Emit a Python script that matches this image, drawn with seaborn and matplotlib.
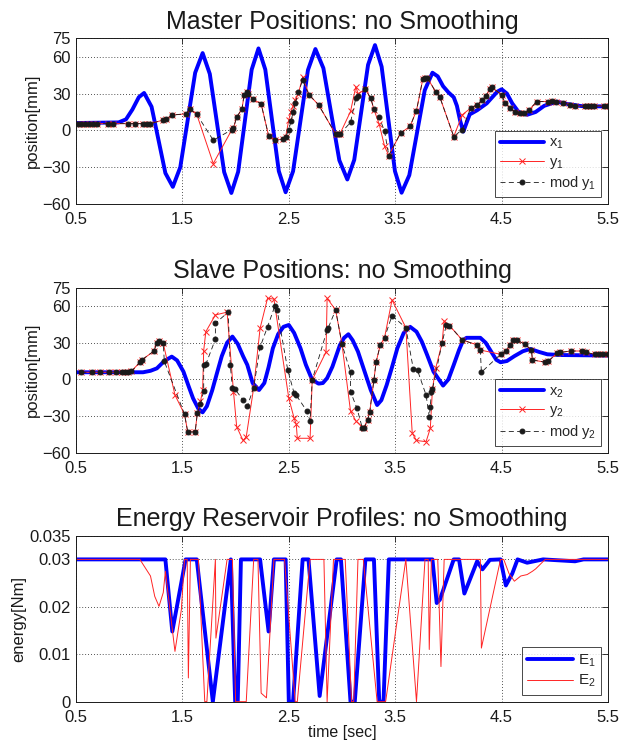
import matplotlib
matplotlib.use('Agg')
import matplotlib.pyplot as plt
import seaborn as sns
import pandas as pd

sns.set_theme(style='white')
plt.rcParams['font.family'] = ['Liberation Sans', 'DejaVu Sans']
plt.rcParams['mathtext.fontset'] = 'custom'
plt.rcParams['mathtext.rm'] = 'Liberation Sans'
plt.rcParams['mathtext.it'] = 'Liberation Sans'

# ---- master positions: x1 (blue), y1 (red x), mod y1 (black dots)
t_x1 = [0.5, 0.9, 0.97, 1.03, 1.09, 1.14, 1.21, 1.275, 1.34, 1.41, 1.48, 1.55, 1.62, 1.69,
        1.7575, 1.825, 1.8925, 1.96, 2.024, 2.0875, 2.151, 2.215, 2.279, 2.3425, 2.406, 2.47,
        2.54, 2.61, 2.68, 2.75, 2.825, 2.9, 2.975, 3.05, 3.115, 3.18, 3.245, 3.31, 3.3725,
        3.435, 3.4975, 3.56, 3.6325, 3.705, 3.7775, 3.85, 3.9, 3.95, 4.0, 4.05, 4.08, 4.11,
        4.14, 4.2, 4.27, 4.36, 4.46, 4.5, 4.55, 4.6, 4.66, 4.74, 4.82, 4.9, 5.02, 5.12, 5.25, 5.5]
x1 = [6, 6.5, 9, 17, 27, 30.5, 19.3, -7.7, -34.8, -46, -30, 8.5, 47, 63,
      46, 6, -34, -51, -33.7, 7.9, 49.5, 66.8, 49.6, 8.2, -33.2, -50.4,
      -33.3, 8, 49.2, 66.3, 50.7, 13, -24.4, -40, -24, 14.7, 53.5, 69.5, 51.9,
      9.3, -33.2, -50.8, -36.5, -1.9, 32.7, 47, 44, 36, 31, 27, 20, 8,
      -1, 13, 16.4, 22, 31.6, 33.5, 30, 22, 15, 12.7, 15, 20, 23.4, 21.5, 19.8, 19.5]

t_y1 = [0.52, 0.55, 0.585, 0.62, 0.663, 0.70, 0.80, 0.85, 0.99, 1.05, 1.13, 1.17, 1.20,
        1.32, 1.35, 1.40, 1.535, 1.57, 1.635, 1.79, 1.965, 1.98, 2.01, 2.06, 2.08, 2.11,
        2.12, 2.16, 2.24, 2.31, 2.37, 2.45, 2.47, 2.50, 2.52, 2.54, 2.56, 2.59, 2.63, 2.69,
        2.78, 2.94, 2.96, 2.98, 3.08, 3.13, 3.15, 3.22, 3.27, 3.30, 3.35, 3.40, 3.44, 3.55,
        3.64, 3.70, 3.76, 3.78, 3.80, 3.88, 3.92, 4.05, 4.13, 4.21, 4.27, 4.32, 4.35, 4.39,
        4.41, 4.50, 4.53, 4.58, 4.63, 4.67, 4.71, 4.76, 4.83, 4.94, 4.97, 5.01, 5.08, 5.14,
        5.19, 5.28, 5.31, 5.34, 5.37, 5.46, 5.5]
y1 = [5.5, 5.5, 5.5, 5.5, 5.5, 5.5, 5.5, 5.5, 5.5, 5.5, 5.5, 5.5, 5.5,
      8.5, 9, 12.5, 13.5, 17.5, 13, -27, 0.6, 2, 10.8, 17.5, 29, 31,
      30, 25.5, 21.6, -4.3, -8, -7, -5.5, 8.6, 15, 20, 25, 30, 43.5, 29,
      20.8, -3, -3, -3, 15.4, 35.7, 30, 33.5, 26, 17, 5, -13, -20.5, -2.2,
      3.3, 16.2, 42, 43, 43, 31.6, 27, -5, 12.7, 18.2, 20.8, 25, 28, 33.5,
      35, 29, 22.7, 18.2, 14.6, 14, 14, 16.8, 23.5, 23.5, 24, 23.5, 22.7, 20.8,
      19.6, 20, 20, 20, 20, 20, 20]
mod_y1 = [5.5, 5.5, 5.5, 5.5, 5.5, 5.5, 5.5, 5.5, 5.5, 5.5, 5.5, 5.5, 5.5,
          8.5, 9, 12.5, 13.5, 17.5, 13, -8, 0.6, 2, 10.8, 17.5, 29, 31,
          30, 25.5, 21.6, -4.3, -8, -7, -5.5, 0.6, 7.3, 14.6, 22, 31, 41, 29,
          20.8, -3, -3, -3, 6.5, 26.3, 28, 33.5, 26.3, 17.3, 10.8, -0.8, -20.5, -2.2,
          3.3, 16.2, 42, 43, 43, 31.6, 27, -5, 0.6, 18.2, 20.8, 25, 28, 33.5,
          35, 29, 22.7, 18.2, 14.6, 14, 14, 16.8, 23.5, 23.5, 24, 23.5, 22.7, 20.8,
          19.6, 20, 20, 20, 20, 20, 20]

# ---- slave positions: x2 (blue), y2 (red x), mod y2 (black dots)
t_x2 = [0.5, 1.13, 1.2, 1.26, 1.33, 1.40, 1.45, 1.51, 1.56, 1.60, 1.65, 1.69, 1.73, 1.78,
        1.82, 1.87, 1.92, 1.97, 2.02, 2.07, 2.11, 2.16, 2.22, 2.27, 2.31, 2.35, 2.40, 2.45,
        2.50, 2.55, 2.61, 2.66, 2.72, 2.78, 2.82, 2.86, 2.91, 2.98, 3.02, 3.06, 3.10, 3.15,
        3.21, 3.27, 3.33, 3.37, 3.42, 3.47, 3.52, 3.58, 3.64, 3.70, 3.75, 3.80, 3.86, 3.95,
        4.00, 4.05, 4.10, 4.14, 4.17, 4.30, 4.35, 4.40, 4.45, 4.49, 4.55, 4.62, 4.70, 4.77,
        4.85, 4.93, 5.06, 5.5]
x2 = [5.8, 5.8, 7, 9, 15, 18.6, 15.5, 6.3, -6, -15.5, -24, -27, -22, -9,
      3.6, 19, 30, 35, 29, 19, 11.8, -3, -8.7, -3, 10, 25.4, 37, 43,
      44.5, 38, 25.4, 12, -0.5, -3.5, -3, 1, 10.4, 28, 34, 36.9, 32, 22.7,
      7, -8.7, -21, -17, -4.6, 10, 25.4, 38, 43, 39, 30.9, 20, 6.3, -5.1,
      0, 11.8, 24, 32.2, 34, 34, 30, 23, 16, 14, 15, 19, 23, 24.9,
      22.5, 20.5, 19.9, 19.5]

t_y2 = [0.55, 0.65, 0.73, 0.81, 0.88, 0.93, 0.96, 0.99, 1.02, 1.10, 1.12, 1.23, 1.26, 1.28,
        1.32, 1.43, 1.52, 1.55, 1.62, 1.64, 1.67, 1.69, 1.70, 1.72, 1.81, 1.92, 1.98, 2.01,
        2.07, 2.10, 2.17, 2.23, 2.30, 2.36, 2.50, 2.55, 2.57, 2.58, 2.70, 2.72, 2.85, 2.86,
        2.94, 3.00, 3.08, 3.13, 3.19, 3.21, 3.24, 3.26, 3.30, 3.32, 3.36, 3.40, 3.47, 3.60,
        3.66, 3.70, 3.79, 3.83, 3.85, 3.88, 3.94, 3.96, 4.01, 4.13, 4.27, 4.30, 4.49, 4.54,
        4.58, 4.61, 4.64, 4.72, 4.78, 4.79, 4.91, 4.94, 5.02, 5.05, 5.15, 5.26, 5.29, 5.38,
        5.42, 5.45, 5.5]
y2 = [5.8, 5.8, 5.8, 5.8, 5.8, 5.8, 5.8, 5.8, 6.5, 14, 16, 23, 29.5, 31.4,
      29.5, -12.8, -28.6, -43, -43, -27.8, -18, -9, 23.5, 39, 52.7, 55, -10, -38.7,
      -50, -47, -6.8, 41.8, 66.3, 65.7, -15.5, -31.8, -36.7, -48.2, -48.2, -0.5, 22.5, 66.3,
      56.8, 28.7, -26, -34, -38.7, -39.5, -33, -27, -0.5, 14, 28.2, 34.2, 65, 42.3,
      -44, -50, -51, -40, -8, 9, 29.5, 47.8, 44, 32.2, 28.2, 24, 20.5, 23.2,
      28.2, 32.2, 32.2, 28.7, 24, 15.9, 14, 15, 21.3, 22, 23.2, 23.2, 22, 20.5,
      20.5, 20.5, 20.5]

t_mod2 = [0.55, 0.65, 0.73, 0.81, 0.88, 0.93, 0.96, 0.99, 1.02, 1.10, 1.12, 1.23, 1.26, 1.28,
          1.32, 1.33, 1.52, 1.55, 1.62, 1.64, 1.67, 1.70, 1.70, 1.72, 1.81, 1.81, 1.93, 1.95,
          1.97, 1.99, 2.07, 2.11, 2.17, 2.23, 2.30, 2.37, 2.39, 2.49, 2.55, 2.57, 2.67, 2.70,
          2.72, 2.86, 2.87, 2.94, 3.00, 3.08, 3.08, 3.14, 3.19, 3.21, 3.24, 3.26, 3.30, 3.32,
          3.36, 3.40, 3.47, 3.60, 3.67, 3.71, 3.79, 3.82, 3.83, 3.84, 3.85, 3.94, 3.98, 4.01,
          4.13, 4.27, 4.30, 4.31, 4.49, 4.54, 4.58, 4.61, 4.64, 4.72, 4.78, 4.79, 4.91, 4.94,
          5.02, 5.05, 5.15, 5.26, 5.29, 5.38, 5.42, 5.45, 5.5]
mod_y2 = [5.8, 5.8, 5.8, 5.8, 5.8, 5.8, 5.8, 5.8, 6.5, 14, 16, 23, 29.5, 31.4,
          29.5, 14.7, -28.6, -43, -43, -27.8, -20, -9.5, 11.8, 12.3, 32.8, 45.9, 55, 11.8,
          -6.8, -7.5, -16.9, -22, -6.8, 26.3, 43, 60.3, 56.8, 7.7, -11.4, -13, -26, -34,
          -0.5, 40.4, 42, 56.8, 28.7, 5.8, -10, -23.6, -39.5, -39.5, -33.2, -27, -0.5, 14,
          28.2, 34.2, 52, 42.3, 8.5, 7.3, -12.8, -30.5, -22.3, -10, -8, 29.5, 44.5, 44,
          32.2, 28.2, 24, 5.8, 20.5, 23.2, 28.2, 32.2, 32.2, 28.7, 24, 15.9, 14, 15,
          21.3, 22, 23.2, 23.2, 22, 20.5, 20.5, 20.5, 20.5]

# ---- energy reservoirs
t_e1 = [0.5, 1.34, 1.405, 1.53, 1.635, 1.786, 1.955, 1.996, 2.02, 2.05, 2.23, 2.31, 2.36,
        2.47, 2.50, 2.54, 2.63, 2.685, 2.79, 2.95, 2.99, 3.08, 3.12, 3.22, 3.30, 3.35, 3.39,
        3.44, 3.85, 3.89, 3.92, 4.05, 4.10, 4.15, 4.27, 4.32, 4.39, 4.49, 4.54, 4.60, 4.65,
        4.74, 4.89, 5.19, 5.27, 5.5]
e1 = [0.03, 0.03, 0.0148, 0.03, 0.03, 0.0, 0.03, 0.0, 0.0, 0.03, 0.03, 0.0148, 0.03,
      0.03, 0.0, 0.0, 0.03, 0.03, 0.0012, 0.03, 0.03, 0.0, 0.0, 0.03, 0.03, 0.0, 0.0,
      0.03, 0.03, 0.0208, 0.0215, 0.03, 0.03, 0.0228, 0.0296, 0.0279, 0.0299, 0.03, 0.0245,
      0.027, 0.03, 0.0293, 0.03, 0.0296, 0.03, 0.03]

t_e2 = [0.5, 1.10, 1.20, 1.24, 1.28, 1.32, 1.34, 1.43, 1.49, 1.52, 1.545, 1.556, 1.575,
        1.65, 1.71, 1.73, 1.81, 1.815, 1.92, 1.97, 2.00, 2.10, 2.17, 2.21, 2.24, 2.29, 2.36,
        2.46, 2.56, 2.58, 2.70, 2.83, 2.86, 2.92, 3.03, 3.09, 3.11, 3.15, 3.20, 3.33, 3.41,
        3.60, 3.70, 3.78, 3.81, 3.82, 3.84, 3.90, 3.93, 3.96, 4.30, 4.31, 4.49, 4.52, 4.57,
        4.62, 4.68, 4.74, 4.79, 4.82, 4.91, 5.5]
e2 = [0.03, 0.03, 0.0265, 0.0222, 0.0201, 0.023, 0.0275, 0.0106, 0.0194, 0.03, 0.03, 0.005,
      0.03, 0.03, 0.0, 0.0, 0.03, 0.0134, 0.03, 0.03, 0.0, 0.0, 0.03, 0.03, 0.0018, 0.0008,
      0.03, 0.03, 0.0, 0.0, 0.03, 0.03, 0.0, 0.03, 0.03, 0.0, 0.0, 0.03, 0.03, 0.0, 0.0,
      0.03, 0.0, 0.03, 0.03, 0.011, 0.03, 0.03, 0.0074, 0.03, 0.03, 0.0113, 0.03, 0.03,
      0.027, 0.0254, 0.0265, 0.0268, 0.0275, 0.028, 0.03, 0.03]

x_ticks = [0.5, 1.5, 2.5, 3.5, 4.5, 5.5]
pos_ticks = [-60, -30, 0, 30, 60, 75]
e_ticks = [0, 0.01, 0.02, 0.03, 0.035]
e_ticklabels = ['0', '0.01', '0.02', '0.03', '0.035']

RED = '#ff2424'
BLUE = '#0000ff'

fig = plt.figure(figsize=(6.22, 7.49), dpi=100)
ax1 = fig.add_axes([0.1222, 0.7276, 0.8553, 0.2212])
ax2 = fig.add_axes([0.1222, 0.3956, 0.8553, 0.2203])
ax3 = fig.add_axes([0.1222, 0.0632, 0.8553, 0.2216])


def style_axes(ax, title, ylabel):
    ax.set_xlim(0.5, 5.5)
    ax.set_xticks(x_ticks)
    ax.set_xticklabels([str(v) for v in x_ticks])
    ax.grid(True, color='k', linestyle=(0, (1, 2.5)), linewidth=0.6)
    ax.tick_params(direction='in', length=4, width=0.6, top=True, right=True,
                   labelsize=12, colors='k', pad=4)
    ax.tick_params(axis='x', pad=6)
    for sp in ax.spines.values():
        sp.set_color('k')
        sp.set_linewidth(0.7)
    ax.set_title(title, fontsize=18, pad=7, color='k')
    ax.set_ylabel(ylabel, fontsize=12, color='k', labelpad=2)
    ax.set_xlabel('')


def add_legend(ax, fs):
    leg = ax.legend(loc='lower right', fontsize=fs, frameon=True, fancybox=False,
                    edgecolor='k', borderaxespad=0.45, handlelength=3.0,
                    labelspacing=0.25, borderpad=0.35, handletextpad=0.35)
    leg.get_frame().set_linewidth(0.7)


def position_panel(ax, t_x, xv, t_r, rv, t_b, bv, idx, title):
    sns.lineplot(x=t_x, y=xv, ax=ax, color=BLUE, linewidth=2.8, sort=False,
                 estimator=None, label='x$_%d$' % idx)
    sns.lineplot(x=t_r, y=rv, ax=ax, color=RED, linewidth=0.7, sort=False,
                 estimator=None, marker='x', markersize=5, markeredgewidth=0.7,
                 markeredgecolor=RED, label='y$_%d$' % idx)
    sns.lineplot(x=t_b, y=bv, ax=ax, color='k', linewidth=0.6, sort=False,
                 estimator=None, marker='o', markersize=3.5,
                 markeredgecolor='k', markerfacecolor='k',
                 label='mod y$_%d$' % idx)
    ax.lines[-1].set_linestyle((0, (6, 4)))
    ax.set_ylim(-60, 75)
    ax.set_yticks(pos_ticks)
    style_axes(ax, title, 'position[mm]')
    add_legend(ax, 10.5)


position_panel(ax1, t_x1, x1, t_y1, y1, t_y1, mod_y1, 1, 'Master Positions: no Smoothing')
position_panel(ax2, t_x2, x2, t_y2, y2, t_mod2, mod_y2, 2, 'Slave Positions: no Smoothing')

sns.lineplot(x=t_e1, y=e1, ax=ax3, color=BLUE, linewidth=2.8, sort=False,
             estimator=None, label='E$_1$')
sns.lineplot(x=t_e2, y=e2, ax=ax3, color=RED, linewidth=0.7, sort=False,
             estimator=None, label='E$_2$')
ax3.set_ylim(0, 0.035)
ax3.set_yticks(e_ticks)
ax3.set_yticklabels(e_ticklabels)
style_axes(ax3, 'Energy Reservoir Profiles: no Smoothing', 'energy[Nm]')
ax3.set_xlabel('time [sec]', fontsize=11.5, color='k', labelpad=0)
add_legend(ax3, 11)

fig.savefig('out.png', dpi=100)
